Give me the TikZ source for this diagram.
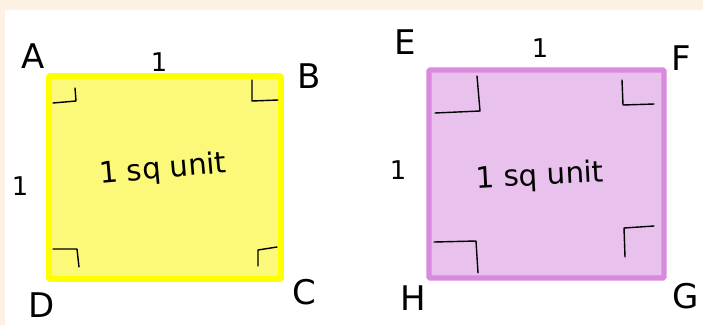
\documentclass[tikz,border=0pt]{standalone}
\usepackage{fontspec}
\setmainfont{DejaVu Sans}
\definecolor{cream}{HTML}{FCF1E3}
\definecolor{yborder}{HTML}{FFFF00}
\definecolor{yfill}{HTML}{FBF87A}
\definecolor{pborder}{HTML}{D98ADF}
\definecolor{pfill}{HTML}{E8C2EC}
\begin{document}
\begin{tikzpicture}[x=0.03cm,y=-0.03cm,
  lbl/.style={font=\fontsize{29}{31}\selectfont, text=black},
  side/.style={font=\fontsize{22}{24}\selectfont, text=black},
  area/.style={font=\fontsize{25}{27}\selectfont, text=black},
  rmark/.style={draw=black, line width=1.2pt, line cap=round, line join=round},
  ysq/.style={draw=yborder, fill=yfill, line width=5pt, rounded corners=1pt},
  psq/.style={draw=pborder, fill=pfill, line width=4.5pt, rounded corners=1pt}]
\useasboundingbox (0,0) rectangle (703,325);
\fill[cream] (0,0) rectangle (703,325);
\fill[white] (5,10) rectangle (703,325);
% yellow square
\draw[ysq] (49,76) rectangle (281,279);
\node[area, rotate=5] (yarea) at (163,170) {1 sq unit};
\node[lbl] (A) at (33,56) {A};
\node[side] (ytop) at (159,62) {1};
\node[lbl] (B) at (309,76) {B};
\node[side] (yleft) at (20,186) {1};
\node[lbl] (D) at (42,305) {D};
\node[lbl] (C) at (304,292) {C};
\draw[rmark] (53,103) -- (76,101) -- (75,88);
\draw[rmark] (252,80) -- (252,101) -- (278,100);
\draw[rmark] (53,249) -- (77,249) -- (79,267);
\draw[rmark] (258,266) -- (258,250) -- (277,247);
% purple square
\draw[psq] (429,70) rectangle (664,278);
\node[area, rotate=3] (parea) at (540,177) {1 sq unit};
\node[lbl] (E) at (405,42) {E};
\node[side] (ptop) at (540,48) {1};
\node[lbl] (F) at (681,58) {F};
\node[side] (pleft) at (398,170) {1};
\node[lbl] (H) at (413,298) {H};
\node[lbl] (G) at (686,296) {G};
\draw[rmark] (435,113) -- (480,111) -- (477,76);
\draw[rmark] (622,80) -- (623,105) -- (654,104);
\draw[rmark] (434,242) -- (476,241) -- (478,273);
\draw[rmark] (625,257) -- (624,228) -- (654,226);
\end{tikzpicture}
\end{document}
